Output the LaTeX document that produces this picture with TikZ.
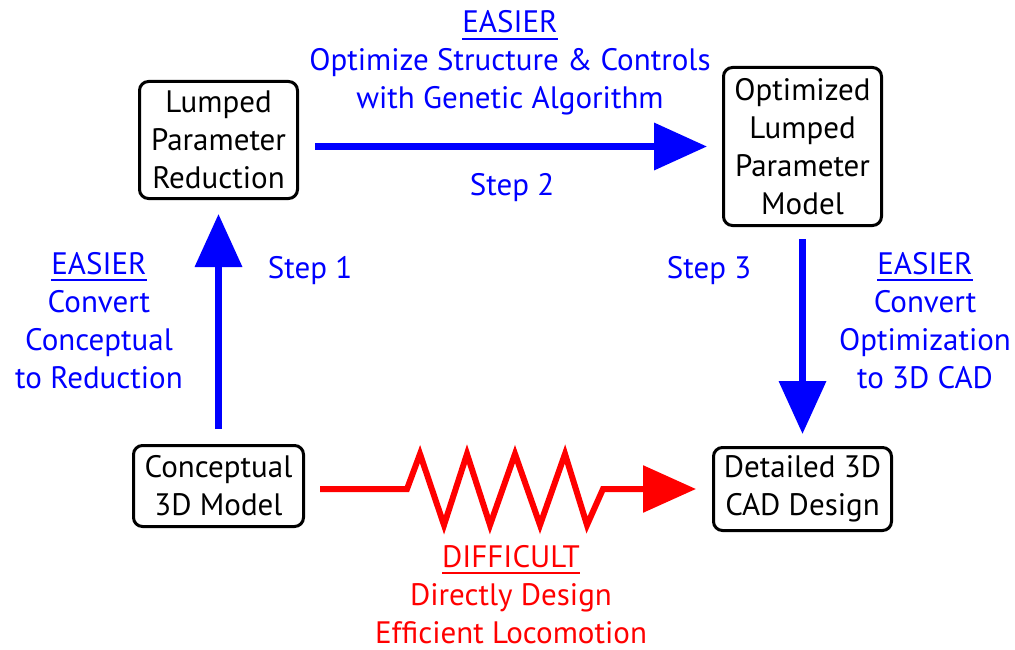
\documentclass[tikz,border=0pt]{standalone}
\usepackage{fontspec}
\setmainfont{PT Sans}
\usetikzlibrary{arrows.meta}
\newcommand\ulx[1]{\setbox0\hbox{#1}\rlap{\rule[-7pt]{\wd0}{2pt}}\box0}
\begin{document}
\begin{tikzpicture}[x=1pt,y=-1pt,
  box/.style={draw=black, line width=3pt, rounded corners=9pt, align=center, inner sep=0pt, font=\fontsize{31}{38}\selectfont},
  lbl/.style={align=center, inner sep=0pt, anchor=base, font=\fontsize{31}{38}\selectfont},
  bluearrow/.style={draw=blue, line width=7pt, -{Triangle[length=53pt,width=46pt]}},
  redarrow/.style={draw=red, line width=6pt, line join=miter, -{Triangle[length=53pt,width=46pt]}}]
\useasboundingbox (0,0) rectangle (1015,650);
\node[box, minimum width=158pt, minimum height=117pt] (lpr) at (218.5,140) {Lumped\\Parameter\\Reduction};
\node[box, minimum width=158pt, minimum height=158pt] (olpm) at (802.5,146.5) {Optimized\\Lumped\\Parameter\\Model};
\node[box, minimum width=170pt, minimum height=81pt] (c3d) at (218.5,486) {Conceptual\\3D Model};
\node[box, minimum width=178pt, minimum height=83pt] (d3d) at (802.5,489) {Detailed 3D\\CAD Design};

\draw[bluearrow, shorten <=15pt, shorten >=14pt] (c3d.north) -- (lpr.south);
\draw[bluearrow, shorten <=16pt, shorten >=15pt] (lpr.east |- olpm.west) -- (olpm.west);
\draw[bluearrow, shorten <=12pt, shorten >=12pt] (olpm.south) -- (d3d.north);
\draw[redarrow, shorten <=15pt, shorten >=16pt] (c3d.east |- d3d.west) -- ++(102,0)
  -- ++(13,-35) -- ++(24,71) -- ++(23,-71) -- ++(23,71) -- ++(25,-71)
  -- ++(25,71) -- ++(25,-71) -- ++(22,71) -- ++(16,-36) -- (d3d.west);

\node[lbl, text=blue] (toplbl) at (510,109) {\ulx{EASIER}\\Optimize Structure \& Controls\\with Genetic Algorithm};
\node[lbl, text=blue] (step2) at (512,196) {Step 2};
\node[lbl, text=blue] (step1) at (310,278) {Step 1};
\node[lbl, text=blue] (step3) at (709,278) {Step 3};
\node[lbl, text=blue] (leftlbl) at (99,388) {\ulx{EASIER}\\Convert\\Conceptual\\to Reduction};
\node[lbl, text=blue] (rightlbl) at (925,388) {\ulx{EASIER}\\Convert\\Optimization\\to 3D CAD};
\node[lbl, text=red] (botlbl) at (511,643) {\ulx{DIFFICULT}\\Directly Design\\Efficient Locomotion};
\end{tikzpicture}
\end{document}
